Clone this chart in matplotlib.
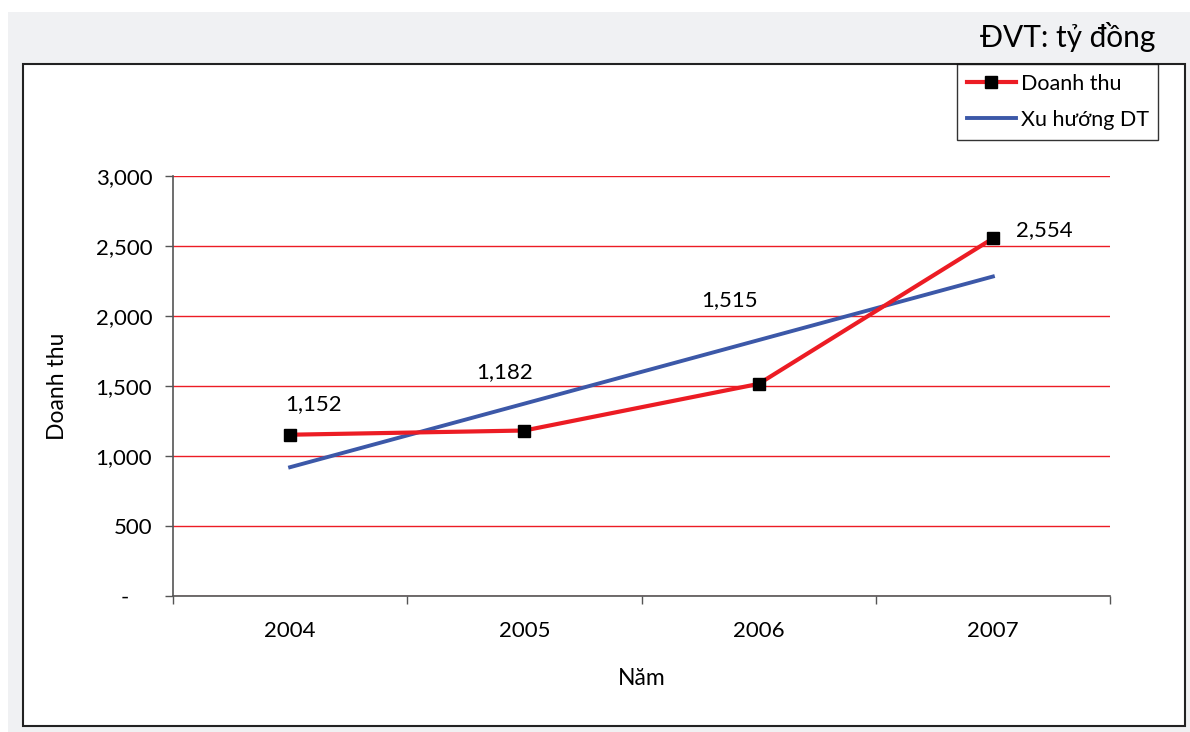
import numpy as np
import matplotlib
matplotlib.use("Agg")
import matplotlib.pyplot as plt
from matplotlib.patches import Rectangle
from matplotlib.ticker import FixedLocator, FuncFormatter

plt.rcParams['font.family'] = ['Lato', 'DejaVu Sans']

years = ["2004", "2005", "2006", "2007"]
revenue = [1152, 1182, 1515, 2554]
trend = [920, 1374, 1828, 2282]   # đường xu hướng tuyến tính
label_offsets = [(17, 22), (-14, 42), (-21, 60), (37, 6)]  # points

RED = "#ec1c24"
BLUE = "#3c58a8"
W, H = 1190, 732
FS = 16

fig = plt.figure(figsize=(W / 100, H / 100), dpi=100)
fig.patch.set_facecolor("white")

# gray backdrop and white framed panel
fig.patches.append(Rectangle((8 / W, 0), 1 - 8 / W, (H - 12) / H, transform=fig.transFigure,
                             facecolor="#f0f1f3", edgecolor="none", zorder=-2))
fig.patches.append(Rectangle((23 / W, 1 - 726 / H), (1185 - 23) / W, (726 - 64) / H,
                             transform=fig.transFigure, facecolor="white",
                             edgecolor="#222222", linewidth=1.5, zorder=-1))

ax = fig.add_axes([173 / W, 1 - 596 / H, (1110 - 173) / W, (596 - 176) / H])
ax.set_facecolor("none")
x = np.arange(len(years))

line_dt, = ax.plot(x, revenue, color=RED, lw=3, marker="s", ms=9,
                   mfc="black", mec="black", zorder=4, label="Doanh thu")
line_tr, = ax.plot(x, trend, color=BLUE, lw=2.8, zorder=3, label="Xu hướng DT")

for xi, v, off in zip(x, revenue, label_offsets):
    ax.annotate(f"{v:,}", (xi, v), xytext=off, textcoords="offset points",
                ha="center", va="center", fontsize=FS, color="black")

ax.set_xlim(-0.5, len(years) - 0.5)
ax.set_ylim(0, 3000)
ax.yaxis.set_major_locator(FixedLocator(np.arange(0, 3001, 500)))
ax.yaxis.set_major_formatter(FuncFormatter(lambda v, p: "-    " if v == 0 else f"{int(v):,}"))
ax.set_xticks(x)
ax.set_xticklabels(years)
ax.xaxis.set_minor_locator(FixedLocator(np.arange(-0.5, len(years), 1.0)))

ax.grid(axis="y", color=RED, lw=1)
ax.set_axisbelow(True)
for s in ["top", "right"]:
    ax.spines[s].set_visible(False)
for s in ["left", "bottom"]:
    ax.spines[s].set_color("#555555")
    ax.spines[s].set_linewidth(1.2)

ax.tick_params(axis="y", length=6, width=1, color="#555555", pad=9, labelsize=FS)
ax.tick_params(axis="x", which="major", length=0, pad=18, labelsize=FS)
ax.tick_params(axis="x", which="minor", length=6, width=1, color="#555555")

ax.set_ylabel("Doanh thu", fontsize=16.5)
ax.yaxis.set_label_coords((68 - 173) / (1110 - 173), 0.5)
ax.set_xlabel("Năm", fontsize=16.5)
ax.xaxis.set_label_coords(0.5, (596 - 668) / (596 - 176))

leg = fig.legend(handles=[line_dt, line_tr], loc="upper left",
                 bbox_to_anchor=(957 / W, 1 - 64 / H), bbox_transform=fig.transFigure,
                 fontsize=15.5, frameon=True, fancybox=False, edgecolor="black",
                 handlelength=2.3, handletextpad=0.2, labelspacing=0.75,
                 borderpad=0.45, borderaxespad=0)
leg.get_frame().set_linewidth(1)
leg.set_zorder(5)

fig.text(1155 / W, 1 - 37 / H, "ĐVT: tỷ đồng", ha="right", va="center", fontsize=21.5)

fig.savefig("out.png", dpi=100)
